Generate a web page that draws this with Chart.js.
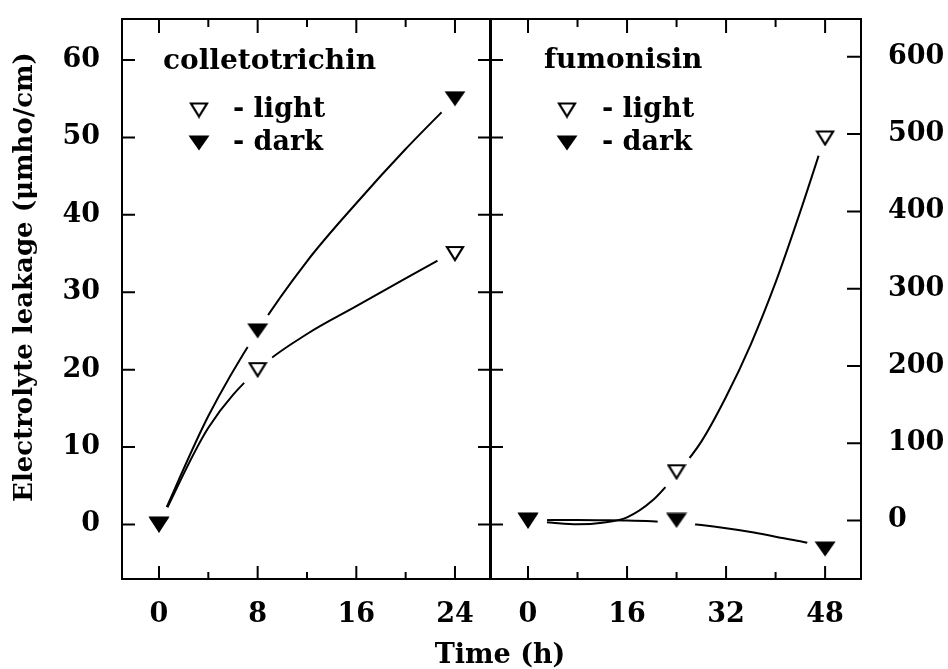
<!DOCTYPE html>
<html>
<head>
<meta charset="utf-8">
<script src="https://cdn.jsdelivr.net/npm/chart.js@4.4.1/dist/chart.umd.min.js"></script>
<style>
  html, body { margin: 0; padding: 0; background: #fff; }
  #wrap { position: relative; width: 948px; height: 669px; }
  #wrap canvas { position: absolute; left: 0; top: 0; }
</style>
</head>
<body>
<div id="wrap">
  <canvas id="leftChart" width="948" height="669"></canvas>
  <canvas id="rightChart" width="948" height="669"></canvas>
</div>
<script>
// colletotrichin panel (left axis, µmho/cm): measured points
const hoursLeft = [0, 8, 24];
const lightLeft = [0, 20, 35];
const darkLeft = [0, 25, 55];
// fitted curves
const fitHoursLeft = [0, 4, 8, 12, 16, 20, 24];
const fitLightLeft = [0, 12.5, 20, 24.6, 28.2, 31.8, 35.3];
const fitDarkLeft = [0, 14, 25, 34, 41.5, 48.5, 55];

// fumonisin panel (right axis, µmho/cm): measured points
const hoursRight = [0, 24, 48];
const lightRight = [0, 63, 495];
const darkRight = [0, 0, -37];
// fitted curves
const fitHoursRight = [0, 4, 8, 12, 16, 20, 24, 28, 32, 36, 40, 44, 48];
const fitLightRight = [0, -3, -5, -3, 4, 25, 60, 102, 160, 228, 308, 400, 498];
const fitDarkRight = [0, 0.5, 0.5, 0.3, 0, -1, -3, -6, -10, -15, -21, -27, -34];

// tick labels
const leftXTicks = [0, 8, 16, 24];
const leftXMinor = [4, 12, 20];
const leftYTicks = [0, 10, 20, 30, 40, 50, 60];
const rightXTicks = [0, 16, 32, 48];
const rightXMinor = [8, 24, 40];
const rightYTicks = [0, 100, 200, 300, 400, 500, 600];

const FONT = 'DejaVu Serif';
Chart.defaults.font.family = FONT;
Chart.defaults.font.weight = 'bold';
Chart.defaults.font.size = 27;
Chart.defaults.color = '#000';

// downward triangles used as point styles
function triangleImage(filled) {
  const c = document.createElement('canvas');
  c.width = filled ? 22 : 20;
  c.height = filled ? 16 : 17;
  const g = c.getContext('2d');
  g.beginPath();
  if (filled) {
    g.moveTo(0.5, 0.5); g.lineTo(21.5, 0.5); g.lineTo(11, 15.5); g.closePath();
    g.fillStyle = '#000'; g.fill();
  } else {
    g.moveTo(2, 2); g.lineTo(18, 2); g.lineTo(10, 15); g.closePath();
    g.fillStyle = '#fff'; g.fill();
    g.lineWidth = 2.2; g.strokeStyle = '#000'; g.stroke();
  }
  return c;
}
const openTri = triangleImage(false);
const fullTri = triangleImage(true);

const toXY = (xs, ys) => xs.map((x, i) => ({x: x, y: ys[i]}));

function panelDatasets(hours, light, dark, fitHours, fitLight, fitDark) {
  const curve = (ys) => ({
    data: toXY(fitHours, ys), showLine: true, cubicInterpolationMode: 'monotone',
    borderColor: '#000', borderWidth: 2, pointRadius: 0, order: 3
  });
  return [
    curve(fitLight),
    curve(fitDark),
    { // white halo that opens a gap in the curves around each marker
      data: toXY(hours, light).concat(toXY(hours, dark)),
      pointStyle: 'circle', pointRadius: 19, pointBorderWidth: 0,
      pointBackgroundColor: '#fff', pointBorderColor: '#fff', order: 2
    },
    { label: '- light', data: toXY(hours, light), pointStyle: openTri, pointRadius: 10, order: 1 },
    { label: '- dark', data: toXY(hours, dark), pointStyle: fullTri, pointRadius: 10, order: 0 }
  ];
}

// frame with inward ticks on every side
const frameTicks = {
  id: 'frameTicks',
  afterDraw(chart, args, o) {
    const {ctx, chartArea: a} = chart;
    const x = chart.scales.x, y = chart.scales.y;
    ctx.save();
    ctx.strokeStyle = '#000';
    ctx.lineWidth = 2;
    ctx.strokeRect(a.left, a.top, a.right - a.left, a.bottom - a.top);
    ctx.beginPath();
    const xt = (v, len) => {
      const p = x.getPixelForValue(v);
      ctx.moveTo(p, a.bottom); ctx.lineTo(p, a.bottom - len);
      ctx.moveTo(p, a.top); ctx.lineTo(p, a.top + len + 1);
    };
    o.xMajor.forEach(v => xt(v, 13));
    o.xMinor.forEach(v => xt(v, 7));
    o.yTicks.forEach(v => {
      const p = y.getPixelForValue(v);
      if (o.side === 'left') {
        ctx.moveTo(a.left, p); ctx.lineTo(a.left + 13, p);
        ctx.moveTo(a.right - 12, p); ctx.lineTo(a.right + 13, p);
      } else {
        ctx.moveTo(a.right, p); ctx.lineTo(a.right - 14, p);
      }
    });
    ctx.stroke();
    ctx.restore();
  }
};

// panel name, legend and shared axis titles
const panelText = {
  id: 'panelText',
  afterDraw(chart, args, o) {
    const ctx = chart.ctx;
    ctx.save();
    ctx.fillStyle = '#000';
    ctx.textBaseline = 'alphabetic';
    ctx.textAlign = 'left';
    ctx.font = 'bold 28px "' + FONT + '"';
    ctx.fillText(o.title, o.titleX, o.titleY);
    ctx.font = 'bold 27px "' + FONT + '"';
    chart.data.datasets.filter(d => d.label).forEach((d, i) => {
      const img = d.pointStyle;
      const cy = o.legendY[i];
      ctx.drawImage(img, o.symbolX - img.width / 2, cy - img.height / 2);
      ctx.fillText(d.label, o.textX, cy + 7);
    });
    if (o.axisTitles) {
      ctx.textAlign = 'center';
      ctx.textBaseline = 'middle';
      ctx.fillText('Time (h)', 500, 656);
      ctx.translate(25, 277);
      ctx.rotate(-Math.PI / 2);
      ctx.font = 'bold 26px "' + FONT + '"';
      ctx.fillText('Electrolyte leakage (\u03BCmho/cm)', 0, 0);
    }
    ctx.restore();
  }
};

function fixedTicks(list) {
  return (s) => { s.ticks = list.map(v => ({value: v})); };
}
function noPad(s) {
  s.paddingTop = 0; s.paddingBottom = 0; s.paddingLeft = 0; s.paddingRight = 0;
}

const hiddenGrid = {display: false, drawTicks: false};

new Chart(document.getElementById('leftChart'), {
  type: 'scatter',
  data: {datasets: panelDatasets(hoursLeft, lightLeft, darkLeft, fitHoursLeft, fitLightLeft, fitDarkLeft)},
  options: {
    responsive: false,
    animation: false,
    layout: {padding: {top: 15, right: 458, left: 0, bottom: 0}},
    plugins: {
      legend: {display: false},
      tooltip: {enabled: false},
      frameTicks: {side: 'left', xMajor: leftXTicks, xMinor: leftXMinor, yTicks: leftYTicks},
      panelText: {title: 'colletotrichin', titleX: 163, titleY: 69, symbolX: 199, textX: 233,
                  legendY: [110, 143], axisTitles: true}
    },
    scales: {
      x: {
        type: 'linear', min: -3, max: 26.84,
        grid: hiddenGrid, border: {display: false},
        ticks: {padding: 20, maxRotation: 0, autoSkip: false},
        afterBuildTicks: fixedTicks(leftXTicks),
        afterFit: (s) => { noPad(s); s.height = 90; }
      },
      y: {
        type: 'linear', min: -7.05, max: 65.3,
        grid: hiddenGrid, border: {display: false},
        ticks: {padding: 22, autoSkip: false},
        afterBuildTicks: fixedTicks(leftYTicks),
        afterFit: (s) => { noPad(s); s.width = 122; }
      }
    }
  },
  plugins: [frameTicks, panelText]
});

new Chart(document.getElementById('rightChart'), {
  type: 'scatter',
  data: {datasets: panelDatasets(hoursRight, lightRight, darkRight, fitHoursRight, fitLightRight, fitDarkRight)},
  options: {
    responsive: false,
    animation: false,
    layout: {padding: {top: 15, right: 0, left: 491, bottom: 0}},
    plugins: {
      legend: {display: false},
      tooltip: {enabled: false},
      frameTicks: {side: 'right', xMajor: rightXTicks, xMinor: rightXMinor, yTicks: rightYTicks},
      panelText: {title: 'fumonisin', titleX: 544, titleY: 68, symbolX: 567, textX: 602,
                  legendY: [110, 143], axisTitles: false}
    },
    scales: {
      x: {
        type: 'linear', min: -5.98, max: 53.8,
        grid: hiddenGrid, border: {display: false},
        ticks: {padding: 20, maxRotation: 0, autoSkip: false},
        afterBuildTicks: fixedTicks(rightXTicks),
        afterFit: (s) => { noPad(s); s.height = 90; }
      },
      y: {
        type: 'linear', position: 'right', min: -75.8, max: 649,
        grid: hiddenGrid, border: {display: false},
        ticks: {padding: 27, autoSkip: false},
        afterBuildTicks: fixedTicks(rightYTicks),
        afterFit: (s) => { noPad(s); s.width = 87; }
      }
    }
  },
  plugins: [frameTicks, panelText]
});
</script>
</body>
</html>
